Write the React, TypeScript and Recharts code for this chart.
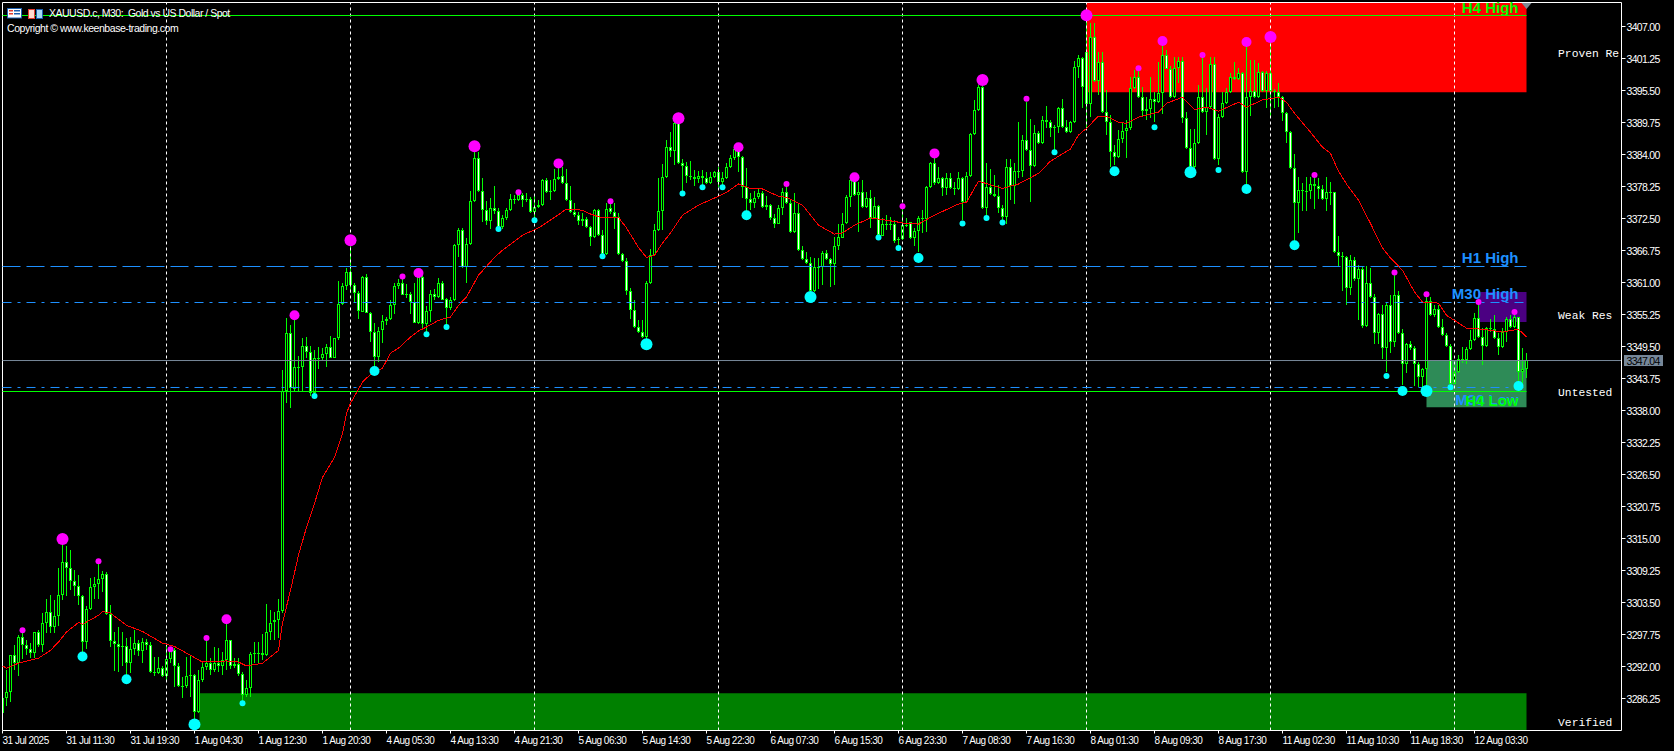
import { Bar, ComposedChart, Line, ReferenceArea, ReferenceDot, ReferenceLine, XAxis, YAxis } from 'recharts';

const highs = [
  3286.3,3291.3,3294.0,3295.8,3297.6,3298.5,3296.7,3296.2,3298.2,3298.5,
  3301.6,3304.1,3304.8,3303.9,3309.7,3314.7,3313.6,3312.9,3309.3,3308.4,
  3304.8,3302.8,3307.9,3308.0,3310.9,3309.1,3308.9,3303.0,3298.2,3299.1,
  3298.2,3297.1,3297.3,3298.5,3296.7,3297.1,3296.9,3296.4,3293.7,3293.7,
  3292.1,3295.8,3295.1,3295.3,3292.6,3290.1,3293.7,3293.8,3290.6,3291.3,
  3292.6,3297.1,3293.5,3295.5,3295.3,3294.6,3300.3,3296.7,3293.5,3293.5,
  3291.0,3289.5,3294.6,3296.4,3296.4,3297.8,3303.2,3302.1,3301.8,3304.1,
  3345.2,3354.6,3353.3,3354.9,3347.8,3351.0,3351.2,3349.6,3348.8,3349.4,
  3349.2,3349.9,3351.4,3351.0,3361.2,3360.9,3363.6,3368.6,3360.9,3359.4,
  3362.1,3362.5,3355.7,3353.7,3353.0,3355.1,3354.8,3357.8,3360.9,3361.6,
  3362.1,3360.7,3359.3,3360.9,3362.3,3362.7,3356.7,3359.6,3359.8,3361.8,
  3361.2,3358.2,3358.4,3367.9,3370.8,3370.8,3369.0,3377.4,3384.8,3384.4,
  3379.7,3375.6,3376.2,3378.3,3374.4,3373.1,3374.4,3376.9,3376.7,3377.2,
  3377.0,3377.0,3376.3,3376.5,3375.8,3379.6,3379.7,3379.4,3381.4,3382.4,
  3381.7,3381.4,3378.3,3375.3,3373.6,3373.5,3372.7,3371.1,3374.2,3374.2,
  3370.4,3375.3,3375.6,3375.3,3373.5,3366.3,3365.4,3360.0,3357.8,3354.2,
  3354.2,3361.2,3367.0,3371.6,3379.7,3382.3,3386.6,3388.0,3390.0,3390.2,
  3383.2,3382.6,3382.8,3381.2,3381.0,3381.2,3380.8,3380.8,3381.0,3381.7,
  3380.8,3382.4,3383.9,3385.7,3385.3,3383.7,3381.5,3377.0,3377.4,3377.9,
  3377.4,3376.5,3375.1,3373.3,3374.9,3377.9,3378.7,3375.8,3377.0,3375.3,
  3367.5,3366.4,3365.5,3365.4,3365.4,3366.6,3366.8,3365.4,3369.1,3371.6,
  3373.5,3376.7,3379.6,3380.3,3379.0,3379.4,3377.2,3377.6,3376.3,3374.9,
  3372.6,3373.1,3372.7,3372.2,3369.1,3374.7,3372.6,3371.8,3370.8,3372.9,
  3374.0,3378.3,3382.6,3384.2,3381.7,3379.9,3380.6,3380.6,3379.0,3380.8,
  3379.9,3380.8,3387.8,3393.8,3396.5,3397.0,3382.4,3381.4,3380.3,3378.5,
  3374.9,3383.2,3383.2,3382.4,3389.8,3387.5,3393.4,3390.3,3389.3,3388.2,
  3390.9,3392.7,3390.2,3389.3,3392.5,3394.0,3390.2,3390.0,3400.8,3401.9,
  3401.5,3409.0,3407.6,3407.6,3402.4,3402.4,3395.6,3391.1,3385.7,3388.4,
  3389.6,3390.2,3397.9,3399.2,3399.5,3396.1,3394.3,3397.9,3395.2,3400.6,
  3404.4,3402.7,3399.9,3401.5,3401.5,3401.5,3391.6,3388.6,3388.6,3396.5,
  3401.9,3395.9,3401.5,3401.5,3391.2,3395.2,3395.9,3398.6,3400.6,3399.5,
  3398.8,3404.0,3401.0,3401.0,3400.4,3399.0,3399.0,3405.1,3395.7,3396.8,
  3394.5,3391.6,3388.2,3384.1,3379.9,3378.8,3379.9,3379.9,3380.3,3379.7,
  3378.5,3379.9,3379.0,3377.2,3369.3,3366.4,3365.7,3365.9,3365.5,3364.1,
  3363.8,3363.9,3363.6,3358.9,3355.5,3356.9,3357.5,3358.7,3362.8,3359.4,
  3352.6,3350.1,3350.5,3349.6,3346.7,3345.6,3358.7,3358.4,3356.9,3356.9,
  3354.4,3351.9,3349.9,3346.1,3347.9,3349.4,3349.4,3352.4,3355.5,3357.5,
  3352.8,3353.0,3354.4,3355.1,3351.9,3352.8,3354.8,3355.1,3355.7,3354.8,3349.2,3348.3,
];

const lows = [
  3283.6,3284.9,3285.6,3291.3,3290.3,3293.3,3294.0,3293.5,3293.5,3295.5,
  3294.6,3298.0,3298.0,3298.0,3299.2,3303.9,3304.6,3305.7,3304.6,3303.0,
  3294.6,3295.1,3302.1,3304.1,3304.1,3305.3,3301.2,3295.5,3291.2,3291.0,
  3292.1,3289.5,3290.8,3294.0,3293.8,3292.6,3294.9,3290.8,3290.3,3290.6,
  3290.1,3289.2,3292.6,3288.3,3288.3,3286.3,3288.1,3286.5,3281.6,3283.6,
  3289.2,3291.3,3290.4,3291.0,3291.0,3290.4,3291.3,3291.5,3291.7,3290.3,
  3285.4,3286.5,3286.5,3292.6,3292.6,3293.1,3293.8,3296.7,3296.7,3297.1,
  3301.6,3339.3,3338.4,3341.3,3341.5,3341.5,3347.4,3340.6,3340.6,3345.4,
  3347.0,3345.8,3347.4,3347.4,3350.6,3356.9,3359.6,3359.1,3357.3,3354.4,
  3355.7,3355.5,3350.3,3345.8,3346.7,3350.1,3353.3,3354.2,3355.3,3359.8,
  3358.7,3358.2,3355.3,3353.7,3353.5,3352.4,3352.1,3353.9,3357.8,3358.2,
  3357.8,3353.3,3356.0,3357.6,3365.5,3363.6,3360.9,3367.7,3375.4,3377.2,
  3371.8,3371.3,3370.6,3373.3,3370.6,3370.6,3372.2,3373.8,3375.1,3375.6,
  3374.5,3375.3,3373.5,3372.2,3374.4,3374.7,3377.0,3375.8,3377.2,3379.4,
  3378.7,3375.6,3373.5,3372.7,3371.3,3371.1,3370.8,3367.5,3369.0,3369.3,
  3365.7,3365.9,3373.3,3370.6,3365.9,3364.6,3358.7,3354.4,3352.8,3351.9,
  3351.0,3349.9,3360.7,3365.9,3370.2,3370.4,3379.7,3383.5,3382.1,3382.3,
  3377.2,3378.8,3379.4,3378.3,3378.8,3378.1,3378.7,3378.7,3379.7,3378.1,
  3378.5,3379.6,3381.5,3383.0,3380.8,3376.2,3373.6,3374.0,3374.4,3376.0,
  3374.4,3374.0,3372.2,3370.8,3371.5,3373.1,3375.1,3369.9,3369.9,3366.6,
  3365.0,3364.3,3358.4,3359.3,3359.8,3360.5,3365.0,3360.2,3360.5,3367.0,
  3369.0,3371.5,3374.5,3376.5,3370.0,3374.4,3374.4,3370.8,3372.4,3369.1,
  3369.3,3370.4,3370.4,3368.1,3367.2,3368.6,3370.9,3368.8,3367.5,3366.4,
  3369.9,3370.0,3377.9,3378.5,3378.7,3376.5,3376.7,3377.8,3376.7,3377.6,
  3372.2,3375.3,3379.9,3387.5,3391.8,3374.2,3373.1,3376.7,3376.3,3373.5,
  3371.8,3371.6,3375.8,3375.1,3379.7,3379.9,3384.6,3375.3,3381.7,3385.9,
  3385.9,3388.7,3387.1,3384.8,3387.8,3388.7,3387.8,3387.8,3389.6,3397.7,
  3392.3,3388.7,3390.7,3397.0,3394.7,3391.4,3387.5,3381.7,3382.1,3383.3,
  3386.0,3383.3,3388.4,3395.7,3394.1,3390.7,3390.2,3390.5,3389.8,3393.2,
  3391.2,3399.2,3394.1,3394.1,3396.8,3389.6,3385.0,3380.8,3381.5,3385.9,
  3391.4,3387.5,3392.3,3383.0,3382.1,3390.5,3393.0,3395.0,3397.4,3397.4,
  3380.6,3378.5,3390.9,3394.1,3394.1,3395.2,3392.3,3390.5,3392.3,3392.5,
  3390.0,3386.0,3381.4,3368.1,3369.9,3373.8,3373.8,3376.0,3374.2,3376.0,
  3375.8,3373.8,3374.9,3366.3,3363.9,3359.4,3356.9,3358.7,3361.2,3354.2,
  3352.8,3353.0,3358.2,3349.9,3349.9,3347.2,3344.9,3348.3,3349.4,3351.7,
  3342.5,3344.7,3348.8,3342.4,3342.2,3342.2,3342.2,3354.9,3354.8,3352.8,
  3351.4,3349.4,3342.2,3342.7,3344.7,3346.5,3346.3,3348.8,3350.5,3351.0,
  3346.1,3349.4,3352.1,3350.8,3347.9,3349.2,3350.3,3352.8,3352.8,3342.7,3342.5,3343.8,
];

const closes = [
  3286.3,3287.4,3294.0,3292.6,3297.3,3295.8,3295.1,3294.4,3298.2,3295.8,
  3299.8,3301.8,3299.1,3301.0,3304.8,3310.7,3309.7,3307.3,3306.4,3304.6,
  3296.4,3302.3,3306.3,3306.8,3307.7,3308.6,3301.4,3296.5,3296.0,3295.5,
  3295.6,3292.6,3295.1,3296.2,3294.8,3296.4,3295.8,3291.0,3290.8,3291.7,
  3290.3,3293.3,3294.9,3292.1,3288.5,3288.5,3290.3,3290.4,3283.8,3289.5,
  3291.9,3292.6,3291.3,3292.6,3292.1,3293.1,3296.7,3292.1,3292.4,3290.6,
  3286.8,3288.1,3294.2,3294.4,3294.4,3294.0,3298.2,3299.9,3300.3,3301.9,
  3341.5,3351.9,3342.0,3345.9,3345.9,3349.6,3348.5,3341.1,3347.4,3347.4,
  3348.1,3349.4,3347.4,3351.0,3357.1,3360.3,3362.8,3360.5,3359.1,3355.8,
  3362.0,3355.5,3352.1,3347.6,3352.3,3354.0,3354.4,3356.9,3360.3,3360.9,
  3358.7,3358.9,3357.5,3353.7,3362.0,3353.5,3355.8,3358.9,3358.4,3361.0,
  3358.0,3356.4,3357.8,3367.7,3370.4,3363.8,3367.9,3375.6,3383.3,3377.4,
  3374.0,3372.0,3374.4,3373.8,3370.9,3372.6,3374.0,3376.0,3375.8,3376.7,
  3375.8,3376.0,3373.6,3374.5,3374.9,3379.4,3377.2,3377.4,3379.6,3379.9,
  3378.8,3375.8,3373.6,3373.1,3372.0,3372.4,3370.9,3369.1,3374.0,3369.5,
  3366.1,3374.2,3373.6,3372.7,3366.1,3364.8,3359.4,3356.0,3353.0,3352.1,
  3351.2,3360.9,3365.9,3370.4,3373.8,3379.9,3385.3,3384.6,3389.6,3382.4,
  3381.9,3380.1,3379.9,3379.6,3380.1,3379.7,3378.8,3379.9,3380.8,3379.0,
  3379.7,3381.7,3383.3,3385.0,3383.5,3378.1,3376.0,3375.3,3376.2,3377.0,
  3374.5,3374.9,3372.6,3371.6,3374.4,3377.2,3375.3,3370.0,3373.5,3366.8,
  3365.2,3364.5,3359.4,3363.8,3363.8,3366.3,3365.2,3364.3,3367.5,3369.1,
  3371.6,3376.3,3379.4,3376.7,3377.2,3374.5,3376.2,3372.6,3374.7,3369.5,
  3371.6,3371.6,3371.6,3368.6,3368.8,3371.3,3371.1,3369.0,3370.2,3372.6,
  3372.4,3378.1,3382.4,3378.8,3379.7,3377.9,3379.7,3377.9,3377.8,3379.7,
  3375.4,3380.1,3387.7,3392.0,3396.1,3374.4,3378.1,3376.9,3376.5,3374.4,
  3372.7,3381.7,3378.3,3381.0,3381.0,3386.6,3384.8,3381.9,3387.8,3386.0,
  3390.2,3389.8,3388.7,3388.9,3392.3,3388.9,3388.0,3389.8,3399.7,3401.3,
  3396.1,3393.0,3405.1,3397.2,3400.6,3391.6,3389.8,3384.4,3383.5,3386.8,
  3388.2,3388.7,3395.9,3397.9,3394.3,3391.8,3392.1,3393.9,3393.4,3395.0,
  3401.9,3399.3,3394.3,3399.5,3400.8,3390.5,3385.1,3381.7,3386.0,3394.3,
  3391.6,3392.5,3400.2,3383.2,3390.7,3393.2,3395.2,3397.9,3397.5,3398.6,
  3380.8,3394.3,3395.4,3394.3,3398.8,3395.4,3398.6,3395.4,3395.2,3394.3,
  3391.4,3388.0,3381.5,3375.3,3377.6,3377.4,3377.4,3378.7,3378.3,3377.8,
  3376.0,3377.2,3377.2,3366.4,3365.7,3365.5,3360.0,3365.0,3361.6,3363.4,
  3353.2,3361.0,3358.4,3351.9,3355.3,3349.2,3356.9,3350.3,3358.7,3351.9,
  3346.3,3349.9,3349.2,3346.3,3344.0,3345.4,3357.6,3355.1,3356.2,3353.0,
  3351.5,3349.6,3342.7,3344.9,3347.2,3347.0,3349.0,3350.6,3354.6,3351.2,
  3349.6,3352.8,3352.6,3351.0,3349.4,3352.1,3354.4,3353.0,3354.8,3344.9,3345.4,3347.04,
];

// candles that did not open at the previous close: [candle, open]
const gapOpens = [[0, 3283.6], [140, 3380.1], [152, 3374.4], [184, 3384.8], [227, 3371.8], [271, 3402.4]];

const maIndex = [
  0,1,4,9,12,14,16,19,20,24,25,27,31,35,40,43,47,50,56,59,61,65,69,70,72,74,76,78,80,83,85,86,87,90,92,95,97,99,102,104,
  106,109,112,114,116,119,123,125,130,134,138,141,145,147,150,154,156,159,161,163,165,167,170,174,179,181,184,187,190,194,
  196,200,204,208,210,213,217,221,226,229,233,239,241,244,250,254,259,262,267,269,271,274,276,279,281,284,289,291,295,298,
  301,304,309,311,315,319,321,323,327,330,332,334,336,339,342,345,347,350,353,355,359,361,366,370,375,379,381,
];
const maValues = [
  3292.1,3291.7,3292.6,3293.5,3294.9,3296.4,3298.2,3299.9,3299.6,3301.2,3301.9,3301.6,3299.4,3298.3,3296.2,3295.6,3294.0,3292.8,3293.0,3292.8,
  3292.1,3292.6,3294.9,3299.8,3305.7,3312.0,3317.0,3321.3,3326.0,3329.6,3333.9,3337.5,3339.3,3343.1,3344.5,3345.6,3348.3,3349.2,3351.2,3352.3,
  3353.0,3354.2,3354.8,3356.9,3358.4,3362.3,3365.5,3366.8,3369.5,3370.8,3372.7,3374.2,3374.0,3373.3,3372.6,3372.7,3370.8,3367.3,3365.5,3365.9,
  3368.1,3369.9,3373.1,3374.9,3376.5,3377.2,3378.7,3377.9,3377.8,3376.5,3376.3,3374.9,3371.3,3369.7,3369.9,3371.3,3372.6,3372.2,3371.6,3371.5,
  3373.1,3375.1,3375.4,3379.2,3377.9,3378.7,3380.6,3382.8,3385.0,3387.5,3388.7,3390.9,3390.9,3389.8,3389.6,3390.7,3391.6,3393.2,3394.3,3392.1,
  3392.5,3391.8,3393.4,3392.5,3393.8,3394.3,3393.4,3391.4,3388.0,3385.3,3384.2,3381.0,3378.7,3375.8,3371.6,3367.2,3365.4,3363.2,3359.3,3357.5,
  3357.3,3355.1,3352.8,3352.6,3352.1,3352.6,3351.2,
];

// swing markers: [candle, price]
const peaksLarge = [[15, 3314.9], [87, 3368.6], [118, 3385.5], [169, 3390.5], [245, 3397.4], [271, 3409.0], [317, 3405.1]];
const peaksMedium = [[56, 3300.5], [73, 3355.1], [104, 3362.7], [139, 3382.4], [184, 3385.3], [213, 3379.9], [233, 3384.2], [290, 3404.4], [311, 3404.2]];
const peaksSmall = [
  [5, 3298.5], [24, 3310.9], [42, 3295.1], [51, 3297.1], [100, 3362.1], [129, 3377.2], [152, 3375.6], [196, 3378.7], [225, 3374.7],
  [256, 3394.0], [284, 3399.5], [300, 3401.9], [328, 3380.3], [348, 3362.8], [356, 3358.9], [369, 3357.5], [378, 3355.7],
];
const troughsLarge = [[48, 3281.6], [161, 3349.9], [202, 3358.4], [297, 3380.8], [356, 3341.5]];
const troughsMedium = [[20, 3293.8], [31, 3289.7], [93, 3345.1], [186, 3373.1], [229, 3365.4], [278, 3381.0], [311, 3377.8], [323, 3367.7], [350, 3341.5], [379, 3342.4]];
const troughsSmall = [
  [60, 3285.4], [78, 3340.6], [106, 3351.7], [111, 3353.0], [124, 3370.6], [133, 3372.2], [150, 3365.7], [170, 3377.0], [175, 3378.1], [180, 3378.1],
  [219, 3369.1], [224, 3367.2], [240, 3371.6], [246, 3372.6], [250, 3371.8], [263, 3384.4], [288, 3388.9], [304, 3381.2], [346, 3344.2], [362, 3342.2],
];

const priceTicks = [
  3407, 3401.25, 3395.5, 3389.75, 3384, 3378.25, 3372.5, 3366.75, 3361, 3355.25, 3349.5,
  3343.75, 3338, 3332.25, 3326.5, 3320.75, 3315, 3309.25, 3303.5, 3297.75, 3292, 3286.25,
];
const timeLabels = [
  '31 Jul 2025', '31 Jul 11:30', '31 Jul 19:30', '1 Aug 04:30', '1 Aug 12:30', '1 Aug 20:30', '4 Aug 05:30', '4 Aug 13:30',
  '4 Aug 21:30', '5 Aug 06:30', '5 Aug 14:30', '5 Aug 22:30', '6 Aug 07:30', '6 Aug 15:30', '6 Aug 23:30', '7 Aug 08:30',
  '7 Aug 16:30', '8 Aug 01:30', '8 Aug 09:30', '8 Aug 17:30', '11 Aug 02:30', '11 Aug 10:30', '11 Aug 18:30', '12 Aug 03:30',
];
const BARS_PER_LABEL = 16;
const timeTicks = timeLabels.map((_, n) => n * BARS_PER_LABEL);
const daySeparators = [41, 87, 133, 179, 225, 271, 317, 363];

const LAST_BAR = closes.length - 1;
const X_MAX = 404.75;
const ZONE_LABEL_X = 388.9;
// 5.75 price units span exactly 32px on the 728px plot
const PRICE_MIN = 3280.5;
const PRICE_MAX = 3411.3125;
const CURRENT_PRICE = 3347.04;
const CURRENT_LINE = 3346.98;

const H4_HIGH = 3408.977;
const H1_HIGH = 3363.875;
const M30_HIGH = 3357.406;
const M30_LOW = 3342.133;
const H4_LOW = 3341.414;

const GREEN = '#00ff00';
const BLUE = '#1e90ff';
const UI_FONT = '"Liberation Sans", sans-serif';

const candles = closes.map((close, i) => {
  const gap = gapOpens.find((g) => g[0] === i);
  const open = gap ? gap[1] : closes[i - 1];
  return {
    i,
    bull: close >= open,
    wick: [lows[i], highs[i]],
    body: [Math.min(open, close), Math.max(open, close)],
  };
});
const maLine = maIndex.map((i, n) => ({ i, ma: maValues[n] }));
const toPoints = (list: number[][]) => list.map(([i, price]) => ({ i, price }));

const Wick = ({ x, y, width, height }: any) => (
  <rect
    x={Math.round(x + width / 2 - 0.5)}
    y={Math.round(y)}
    width={1}
    height={Math.max(1, Math.round(height))}
    fill={GREEN}
    shapeRendering="crispEdges"
  />
);

const Body = ({ x, y, width, height, payload }: any) => {
  const cx = Math.round(x + width / 2 - 0.5);
  const top = Math.round(y);
  const h = Math.max(1, Math.round(height));
  return (
    <g shapeRendering="crispEdges">
      <rect x={cx - 1} y={top} width={3} height={h} fill={GREEN} />
      {h > 2 && <rect x={cx} y={top + 1} width={1} height={h - 2} fill={payload.bull ? '#000000' : '#ffffff'} />}
    </g>
  );
};

const TimeTick = ({ x, y, payload }: any) => (
  <text x={x} y={y + 9} fill="#ffffff" fontFamily={UI_FONT} fontSize={10} letterSpacing={-0.5}>
    {timeLabels[payload.value / BARS_PER_LABEL]}
  </text>
);

const PriceTick = ({ x, y, payload }: any) => (
  <text x={x} y={y + 4} fill="#ffffff" fontFamily={UI_FONT} fontSize={10.5} letterSpacing={-0.7}>
    {payload.value.toFixed(2)}
  </text>
);

// text sitting on a level line, right-aligned to the end of its segment
const levelLabel = (text: string, color: string, dy: number) => ({ viewBox }: any) => (
  <text
    x={viewBox.x + viewBox.width - 8}
    y={viewBox.y + dy}
    textAnchor="end"
    fill={color}
    fontFamily={UI_FONT}
    fontWeight="bold"
    fontSize={15}
  >
    {text}
  </text>
);

const priceTag = ({ viewBox }: any) => {
  const right = viewBox.x + viewBox.width;
  return (
    <g>
      <rect x={right + 2.5} y={viewBox.y - 5.5} width={39} height={11} fill="#778899" />
      <text x={right + 5} y={viewBox.y + 4} fill="#000000" fontFamily={UI_FONT} fontSize={10.5} letterSpacing={-0.7}>
        {CURRENT_PRICE.toFixed(2)}
      </text>
    </g>
  );
};

const zoneLabel = (text: string) => ({ viewBox }: any) => (
  <text
    x={viewBox.x + viewBox.width / 2}
    y={viewBox.y + viewBox.height / 2 + 4}
    fill="#ffffff"
    fontFamily='"Liberation Mono", monospace'
    fontSize={11.3}
  >
    {text}
  </text>
);

const ArrowMark = ({ cx, cy }: any) => <path d={`M${cx - 5} ${cy - 3}L${cx + 5} ${cy - 3}L${cx} ${cy + 3}Z`} fill="#808a94" />;

const levelSegment = (y: number) => [{ x: 0, y }, { x: LAST_BAR, y }];

export default function App() {
  const dotLines = [
    { points: peaksLarge, r: 6, fill: '#ff00ff' },
    { points: peaksMedium, r: 5, fill: '#ff00ff' },
    { points: peaksSmall, r: 3, fill: '#ff00ff' },
    { points: troughsLarge, r: 6, fill: '#00ffff' },
    { points: troughsMedium, r: 5, fill: '#00ffff' },
    { points: troughsSmall, r: 3, fill: '#00ffff' },
  ];

  return (
    <div style={{ position: 'fixed', left: 0, top: 0, width: 1674, height: 751, background: '#000000', overflow: 'hidden' }}>
      <ComposedChart
        width={1674}
        height={751}
        data={candles}
        margin={{ top: 2.5, right: 0, bottom: 0, left: 2.5 }}
        barCategoryGap={0}
      >
        <XAxis
          dataKey="i"
          type="number"
          domain={[0, X_MAX]}
          allowDataOverflow
          ticks={timeTicks}
          interval={0}
          height={20.5}
          stroke="#ffffff"
          tickSize={3}
          tickMargin={1}
          tick={<TimeTick />}
        />
        <XAxis xAxisId="wick" dataKey="i" type="number" domain={[0, X_MAX]} allowDataOverflow hide />
        <YAxis
          orientation="right"
          type="number"
          domain={[PRICE_MIN, PRICE_MAX]}
          allowDataOverflow
          ticks={priceTicks}
          interval={0}
          width={52.5}
          stroke="#ffffff"
          tickSize={4}
          tickMargin={1}
          tick={<PriceTick />}
        />

        <ReferenceLine x={0} stroke="#ffffff" />
        <ReferenceLine y={PRICE_MAX} stroke="#ffffff" />

        <ReferenceArea x1={271} x2={LAST_BAR} y1={3395.2} y2={PRICE_MAX} fill="#ff0000" fillOpacity={1} />
        <ReferenceArea x1={49.25} x2={LAST_BAR} y1={PRICE_MIN} y2={3287.2} fill="#008000" fillOpacity={1} />
        <ReferenceArea x1={356} x2={LAST_BAR} y1={3338.6} y2={3347.0} fill="#2e8b57" fillOpacity={1} />
        <ReferenceArea x1={369} x2={LAST_BAR} y1={3353.9} y2={3359.3} fill="#4b0082" fillOpacity={1} />

        {daySeparators.map((x) => (
          <ReferenceLine key={x} x={x} stroke="#ffffff" strokeDasharray="3 3" />
        ))}

        <ReferenceLine y={CURRENT_LINE} stroke="#778899" label={{ content: priceTag }} />
        <ReferenceLine segment={levelSegment(H4_HIGH)} stroke={GREEN} label={{ content: levelLabel('H4 High', GREEN, -3) }} />
        <ReferenceLine segment={levelSegment(H1_HIGH)} stroke={BLUE} strokeDasharray="18 6" label={{ content: levelLabel('H1 High', BLUE, -4) }} />
        <ReferenceLine segment={levelSegment(M30_HIGH)} stroke={BLUE} strokeDasharray="9 6 3 6" label={{ content: levelLabel('M30 High', BLUE, -4) }} />
        <ReferenceLine segment={levelSegment(M30_LOW)} stroke={BLUE} strokeDasharray="9 6 3 6" label={{ content: levelLabel('M30 Low', BLUE, 18) }} />
        <ReferenceLine segment={levelSegment(H4_LOW)} stroke={GREEN} label={{ content: levelLabel('H4 Low', GREEN, 14) }} />

        <ReferenceDot x={ZONE_LABEL_X} y={3402.3} r={0} label={{ content: zoneLabel('Proven Re') }} />
        <ReferenceDot x={ZONE_LABEL_X} y={3355.1} r={0} label={{ content: zoneLabel('Weak Res') }} />
        <ReferenceDot x={ZONE_LABEL_X} y={3341.3} r={0} label={{ content: zoneLabel('Untested') }} />
        <ReferenceDot x={ZONE_LABEL_X} y={3282.0} r={0} label={{ content: zoneLabel('Verified') }} />
        <ReferenceDot x={LAST_BAR} y={3410.7} shape={<ArrowMark />} />

        <Bar xAxisId="wick" dataKey="wick" barSize={1} shape={<Wick />} isAnimationActive={false} />
        <Bar dataKey="body" barSize={3} shape={<Body />} isAnimationActive={false} />

        <Line data={maLine} dataKey="ma" stroke="#ff0000" strokeWidth={1} dot={false} activeDot={false} shapeRendering="crispEdges" isAnimationActive={false} />
        {dotLines.map((d, n) => (
          <Line
            key={n}
            data={toPoints(d.points)}
            dataKey="price"
            stroke="none"
            dot={{ r: d.r, fill: d.fill, stroke: 'none' }}
            activeDot={false}
            isAnimationActive={false}
          />
        ))}
      </ComposedChart>

      <div style={{ position: 'absolute', left: 49, top: 7, color: '#ffffff', font: `10.5px ${UI_FONT}`, letterSpacing: -0.5, whiteSpace: 'pre' }}>
        XAUUSD.c, M30:  Gold vs US Dollar / Spot
      </div>
      <div style={{ position: 'absolute', left: 7, top: 22, color: '#ffffff', font: `10.5px ${UI_FONT}`, letterSpacing: -0.45, whiteSpace: 'pre' }}>
        Copyright © www.keenbase-trading.com
      </div>
      <svg style={{ position: 'absolute', left: 7, top: 8 }} width={37} height={12}>
        <rect x={0.5} y={0.5} width={14} height={9.5} fill="#ffffff" stroke="#1c5fae" />
        <rect x={2} y={2} width={4} height={1.5} fill="#e03c31" />
        <rect x={2} y={5} width={4} height={1.5} fill="#e03c31" />
        <rect x={7} y={2} width={6} height={1.5} fill="#1c5fae" />
        <rect x={7} y={5} width={6} height={1.5} fill="#1c5fae" />
        <rect x={21.5} y={1.5} width={6} height={9} fill="#ffd9cf" stroke="#e03c31" />
        <rect x={29.5} y={1.5} width={6} height={9} fill="#a8d8f5" stroke="#1c5fae" />
      </svg>
    </div>
  );
}
